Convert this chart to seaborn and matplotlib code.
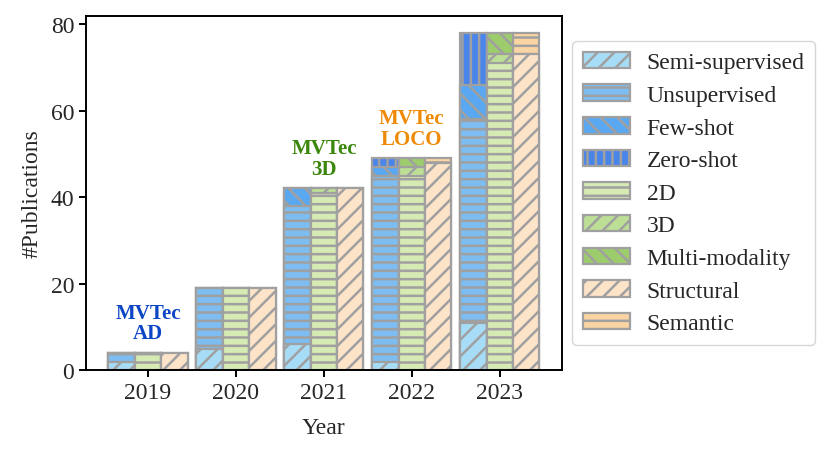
import pandas as pd
import matplotlib
matplotlib.use("Agg")
import matplotlib.pyplot as plt
from matplotlib.patches import Patch
import seaborn as sns

# data
years = ["2019", "2020", "2021", "2022", "2023"]
groups = ["paradigm", "modality", "anomaly"]

semi_supervised = [2, 5, 6, 2, 11]
unsupervised = [2, 14, 32, 43, 47]
few_shot = [0, 0, 4, 2, 8]
zero_shot = [0, 0, 0, 2, 12]
modality_2d = [4, 19, 41, 45, 71]
modality_3d = [0, 0, 1, 2, 2]
multi_modality = [0, 0, 0, 2, 5]
structural = [4, 19, 42, 48, 73]
semantic = [0, 0, 0, 1, 5]

datasets = ["MVTec\nAD", "MVTec\n3D", "MVTec\nLOCO"]
dataset_years = ["2019", "2021", "2022"]
dataset_colors = ["#0d46c4", "#3b870c", "#ef8a07"]

# (label, group, values, colour, hatch)
layers = [
    ("Semi-supervised", "paradigm", semi_supervised, "#a7dcf6", "//"),
    ("Unsupervised", "paradigm", unsupervised, "#7dbdf1", "--"),
    ("Few-shot", "paradigm", few_shot, "#5aa8f2", "\\\\"),
    ("Zero-shot", "paradigm", zero_shot, "#4a86ea", "||"),
    ("2D", "modality", modality_2d, "#d6eab3", "--"),
    ("3D", "modality", modality_3d, "#bcdf95", "//"),
    ("Multi-modality", "modality", multi_modality, "#9dcc6d", "\\\\"),
    ("Structural", "anomaly", structural, "#fde3c7", "//"),
    ("Semantic", "anomaly", semantic, "#fbd4a3", "--"),
]

edge = "#a0a0a0"

sns.set_theme(style="ticks")
plt.rcParams["font.family"] = ["Liberation Serif", "DejaVu Serif"]
plt.rcParams["hatch.linewidth"] = 1.8
plt.rcParams["hatch.color"] = edge
plt.rcParams["axes.edgecolor"] = "black"
plt.rcParams["axes.linewidth"] = 1.4

fig = plt.figure(figsize=(8.31, 4.56), dpi=100)
ax = fig.add_axes([0.1035, 0.186, 0.5725, 0.777])

# stacked bars: draw cumulative heights from the top layer down
for g in groups:
    glayers = [l for l in layers if l[1] == g]
    cum = []
    run = [0] * len(years)
    for l in glayers:
        run = [a + b for a, b in zip(run, l[2])]
        cum.append(list(run))
    for l, heights in reversed(list(zip(glayers, cum))):
        df = pd.DataFrame({"year": years, "count": heights, "group": g})
        n_before = len(ax.patches)
        sns.barplot(data=df, x="year", y="count", hue="group",
                    order=years, hue_order=groups,
                    palette={k: l[3] for k in groups},
                    width=0.9, dodge=True, legend=False, ax=ax,
                    edgecolor=edge, linewidth=1.6, saturation=1)
        for p in ax.patches[n_before:]:
            p.set_hatch(l[4])
            p.set_edgecolor(edge)

totals = {y: a + b for y, a, b in zip(years, structural, semantic)}
for name, yr, col in zip(datasets, dataset_years, dataset_colors):
    ax.text(years.index(yr), totals[yr] + 2.2, name, ha="center", va="bottom",
            color=col, fontsize=15, fontweight="bold", linespacing=1.05)

ax.set_xlim(-0.705, 4.705)
ax.set_ylim(0, 81.9)
ax.set_yticks([0, 20, 40, 60, 80])
ax.set_xlabel("Year", fontsize=17, labelpad=10)
ax.set_ylabel("#Publications", fontsize=17, labelpad=6)
ax.tick_params(labelsize=17, length=5, width=1.4, color="black")
for s in ax.spines.values():
    s.set_visible(True)
    s.set_color("black")

handles = [Patch(facecolor=l[3], edgecolor=edge, hatch=l[4], linewidth=1.6,
                 label=l[0]) for l in layers]
leg = ax.legend(handles=handles, loc="center left", bbox_to_anchor=(0.997, 0.5),
                fontsize=17, handlelength=2.0, handleheight=0.7,
                labelspacing=0.47, borderpad=0.45, handletextpad=0.7,
                borderaxespad=0.5, frameon=True, fancybox=True)
leg.get_frame().set_edgecolor("#cccccc")

fig.savefig("out.png", dpi=100)
